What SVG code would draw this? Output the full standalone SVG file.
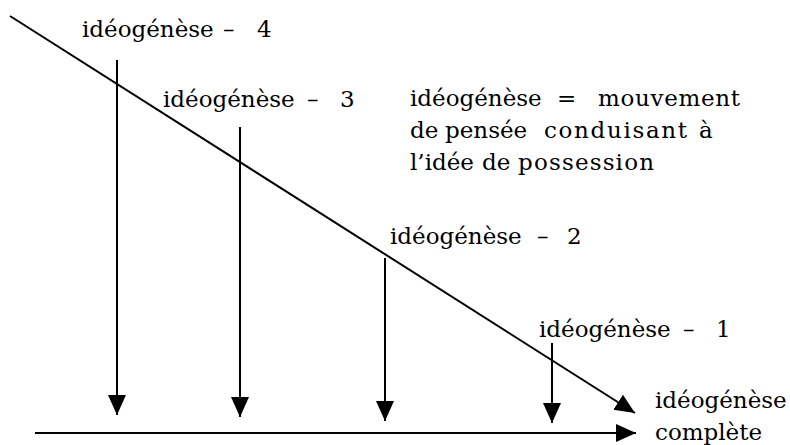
<svg xmlns="http://www.w3.org/2000/svg" width="790" height="445" viewBox="0 0 790 445">
<style>
text{font-family:"DejaVu Serif","Liberation Serif",serif;font-size:23px;fill:#000}
.ln{stroke:#000;stroke-width:2;fill:none}
</style>
<defs>
<marker id="ah" markerUnits="userSpaceOnUse" markerWidth="20" markerHeight="20" viewBox="0 0 20 20" refX="20" refY="10" orient="auto">
<path d="M0,1 L20,10 L0,19 Z" fill="#000"/>
</marker>
</defs>
<rect width="790" height="445" fill="#fff"/>
<g id="connectors">
<line class="ln" x1="10" y1="16" x2="635" y2="413" marker-end="url(#ah)"/>
<line class="ln" x1="35" y1="433" x2="636" y2="433" marker-end="url(#ah)"/>
<line class="ln" x1="117" y1="60" x2="117" y2="415" marker-end="url(#ah)"/>
<line class="ln" x1="240" y1="127" x2="240" y2="417" marker-end="url(#ah)"/>
<line class="ln" x1="385" y1="258" x2="385" y2="421" marker-end="url(#ah)"/>
<line class="ln" x1="552" y1="343" x2="552" y2="423" marker-end="url(#ah)"/>
</g>
<g id="label4"><text y="37"><tspan x="82">idéogénèse</tspan> <tspan x="223">–</tspan> <tspan x="257">4</tspan></text></g>
<g id="label3"><text y="107"><tspan x="163">idéogénèse</tspan> <tspan x="307">–</tspan> <tspan x="340">3</tspan></text></g>
<g id="definition">
<text y="106"><tspan x="410">idéogénèse</tspan> <tspan x="557">=</tspan> <tspan x="598" textLength="142" lengthAdjust="spacing">mouvement</tspan></text>
<text y="138"><tspan x="410">de</tspan> <tspan x="445">pensée</tspan> <tspan x="544" textLength="143" lengthAdjust="spacing">conduisant</tspan> <tspan x="699">à</tspan></text>
<text y="170"><tspan x="410">l’idée</tspan> <tspan x="482">de</tspan> <tspan x="518" textLength="136" lengthAdjust="spacing">possession</tspan></text>
</g>
<g id="label2"><text y="244"><tspan x="390">idéogénèse</tspan> <tspan x="537">–</tspan> <tspan x="567">2</tspan></text></g>
<g id="label1"><text y="337"><tspan x="539">idéogénèse</tspan> <tspan x="683">–</tspan> <tspan x="716">1</tspan></text></g>
<g id="complete">
<text x="655" y="408">idéogénèse</text>
<text x="655" y="440">complète</text>
</g>
</svg>
